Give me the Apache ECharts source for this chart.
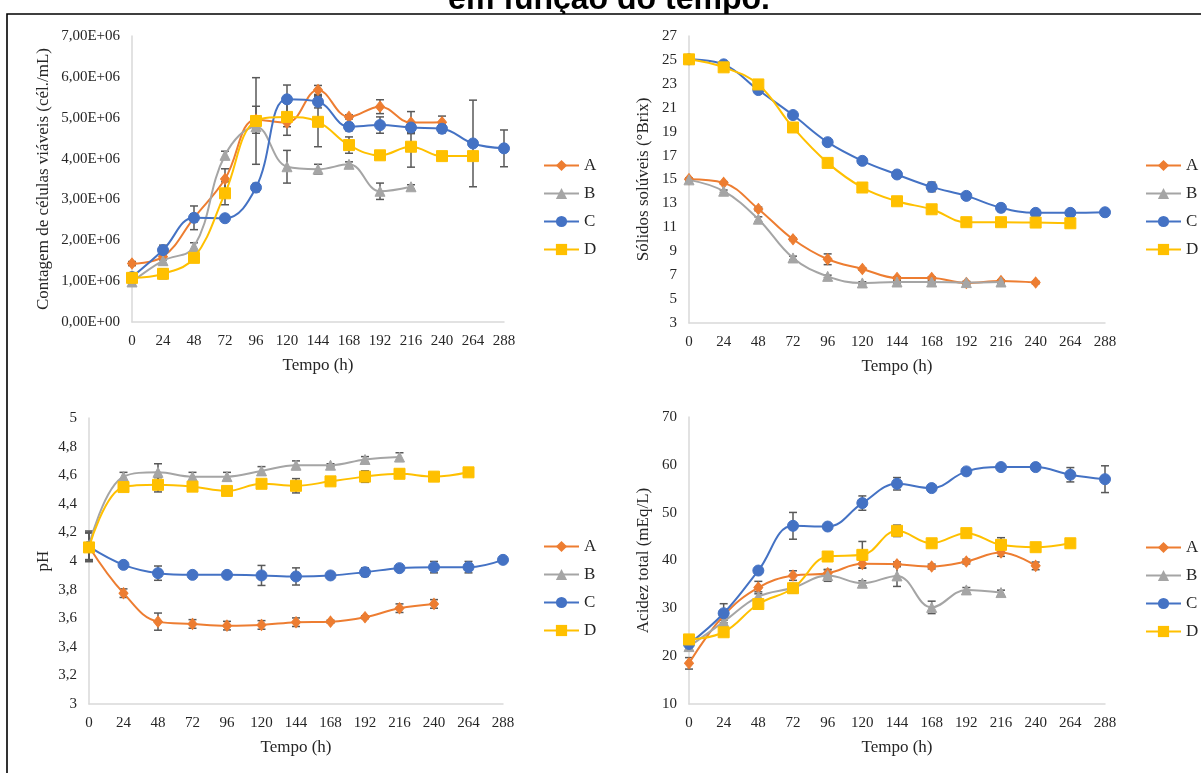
<!DOCTYPE html>
<html>
<head>
<meta charset="utf-8">
<script src="https://cdn.jsdelivr.net/npm/echarts@6/dist/echarts.min.js"></script>
<style>
html,body{margin:0;padding:0;background:#fff;}
#chart{width:1201px;height:773px;}
</style>
</head>
<body>
<div id="chart"></div>
<script>
// ---------- DATA ----------
const hours = [0, 24, 48, 72, 96, 120, 144, 168, 192, 216, 240, 264, 288];
const seriesNames = ['A', 'B', 'C', 'D'];

// Panel 1: viable cell count (cél./mL)
const cellA = [1.43e6, 1.60e6, 2.55e6, 3.50e6, 4.95e6, 4.88e6, 5.68e6, 5.02e6, 5.27e6, 4.88e6, 4.89e6];
const cellAErr = [0.05e6, 0.08e6, 0.29e6, 0.25e6, 0.33e6, 0.10e6, 0.11e6, 0.05e6, 0.17e6, 0.27e6, 0.15e6];
const cellB = [0.98e6, 1.50e6, 1.84e6, 4.08e6, 4.78e6, 3.80e6, 3.74e6, 3.86e6, 3.20e6, 3.31e6];
const cellBErr = [0.05e6, 0.10e6, 0.10e6, 0.10e6, 0.05e6, 0.40e6, 0.12e6, 0.06e6, 0.20e6, 0.05e6];
const cellC = [1.10e6, 1.76e6, 2.55e6, 2.54e6, 3.29e6, 5.45e6, 5.39e6, 4.78e6, 4.82e6, 4.76e6, 4.73e6, 4.37e6, 4.25e6];
const cellCErr = [0.10e6, 0.12e6, 0.10e6, 0.05e6, 0.10e6, 0.35e6, 0.15e6, 0.10e6, 0.20e6, 0.12e6, 0.10e6, 1.06e6, 0.45e6];
const cellD = [1.08e6, 1.18e6, 1.57e6, 3.15e6, 4.92e6, 5.02e6, 4.90e6, 4.33e6, 4.08e6, 4.29e6, 4.06e6, 4.06e6];
const cellDErr = [0.05e6, 0.12e6, 0.08e6, 0.28e6, 1.06e6, 0.45e6, 0.61e6, 0.20e6, 0.10e6, 0.50e6, 0.10e6, 0.05e6];
const cellTicks = ['0,00E+00', '1,00E+06', '2,00E+06', '3,00E+06', '4,00E+06', '5,00E+06', '6,00E+06', '7,00E+06'];

// Panel 2: soluble solids (°Brix)
const brixA = [15.03, 14.72, 12.54, 10.0, 8.33, 7.52, 6.77, 6.77, 6.35, 6.51, 6.38];
const brixAErr = [0.1, 0.1, 0.15, 0.1, 0.45, 0.1, 0.1, 0.1, 0.1, 0.1, 0.1];
const brixB = [14.97, 14.02, 11.68, 8.44, 6.9, 6.35, 6.43, 6.43, 6.38, 6.43];
const brixBErr = [0.1, 0.1, 0.2, 0.15, 0.1, 0.1, 0.1, 0.1, 0.1, 0.1];
const brixC = [25.05, 24.63, 22.48, 20.39, 18.12, 16.56, 15.42, 14.38, 13.63, 12.63, 12.21, 12.21, 12.26];
const brixCErr = [0.05, 0.1, 0.1, 0.1, 0.1, 0.1, 0.1, 0.4, 0.25, 0.3, 0.1, 0.1, 0.1];
const brixD = [25.05, 24.38, 22.95, 19.35, 16.39, 14.33, 13.18, 12.51, 11.43, 11.43, 11.40, 11.34];
const brixDErr = [0.05, 0.1, 0.1, 0.1, 0.1, 0.1, 0.1, 0.1, 0.1, 0.1, 0.1, 0.1];
const brixTicks = ['3', '5', '7', '9', '11', '13', '15', '17', '19', '21', '23', '25', '27'];

// Panel 3: pH
const phA = [4.10, 3.775, 3.576, 3.56, 3.548, 3.553, 3.572, 3.576, 3.607, 3.67, 3.70];
const phAErr = [0.10, 0.03, 0.06, 0.03, 0.03, 0.03, 0.03, 0.01, 0.01, 0.03, 0.03];
const phB = [4.11, 4.59, 4.62, 4.59, 4.59, 4.63, 4.67, 4.67, 4.71, 4.727];
const phBErr = [0.10, 0.03, 0.06, 0.03, 0.03, 0.03, 0.03, 0.01, 0.02, 0.03];
const phC = [4.10, 3.973, 3.915, 3.903, 3.903, 3.899, 3.892, 3.899, 3.922, 3.95, 3.957, 3.957, 4.008];
const phCErr = [0.10, 0.01, 0.05, 0.02, 0.02, 0.07, 0.06, 0.01, 0.03, 0.01, 0.04, 0.04, 0.01];
const phD = [4.095, 4.517, 4.533, 4.52, 4.49, 4.54, 4.526, 4.557, 4.59, 4.61, 4.59, 4.62];
const phDErr = [0.10, 0.02, 0.05, 0.02, 0.02, 0.02, 0.05, 0.01, 0.04, 0.03, 0.01, 0.02];
const phTicks = ['3', '3,2', '3,4', '3,6', '3,8', '4', '4,2', '4,4', '4,6', '4,8', '5'];

// Panel 4: total acidity (mEq/L)
const acA = [18.5, 28.5, 34.34, 36.85, 37.34, 39.3, 39.2, 38.74, 39.78, 41.67, 38.88];
const acAErr = [1.2, 1.0, 1.3, 1.0, 0.8, 0.8, 0.5, 0.5, 0.5, 0.8, 0.8];
const acB = [22.0, 27.2, 32.45, 34.3, 36.85, 35.25, 36.78, 30.2, 33.85, 33.3];
const acBErr = [0.8, 1.0, 1.0, 0.8, 1.2, 0.5, 2.2, 1.3, 0.5, 0.5];
const acC = [22.55, 28.97, 37.9, 47.25, 47.1, 52.0, 56.04, 55.14, 58.63, 59.53, 59.53, 57.93, 57.0];
const acCErr = [0.8, 2.0, 0.5, 2.8, 0.5, 1.5, 1.3, 0.5, 0.5, 0.5, 0.5, 1.5, 2.8];
const acD = [23.5, 25.0, 30.9, 34.2, 40.83, 41.18, 46.2, 43.6, 45.72, 43.27, 42.78, 43.6];
const acDErr = [0.5, 0.5, 0.5, 1.0, 0.5, 2.8, 1.2, 0.5, 0.5, 1.5, 0.5, 0.5];
const acTicks = ['10', '20', '30', '40', '50', '60', '70'];

const titleText = 'em função do tempo.';
const xTitle = 'Tempo (h)';
const yTitles = ['Contagem de células viáveis (cél./mL)', 'Sólidos solúveis (°Brix)', 'pH', 'Acidez total (mEq/L)'];

// ---------- STYLE / LAYOUT ----------
const colors = {A: '#ED7D31', B: '#A5A5A5', C: '#4472C4', D: '#FFC000'};
const symbols = {A: 'diamond', B: 'triangle', C: 'circle', D: 'rect'};
const symbolSizes = {A: [9, 11], B: 10, C: 11, D: 11};
const serif = 'Liberation Serif, Times New Roman, serif';
const txt = '#262626';
const axisGray = '#D9D9D9';

const panels = [
  {grid: {left: 132, top: 36, width: 372, height: 286}, y: {min: 0, max: 7e6, interval: 1e6}, ticks: cellTicks,
   data: [cellA, cellB, cellC, cellD], err: [cellAErr, cellBErr, cellCErr, cellDErr], yGap: 80, legend: {left: 543, top: 157}},
  {grid: {left: 689, top: 36, width: 416, height: 287}, y: {min: 3, max: 27, interval: 2}, ticks: brixTicks,
   data: [brixA, brixB, brixC, brixD], err: [brixAErr, brixBErr, brixCErr, brixDErr], yGap: 37, legend: {left: 1145, top: 157}},
  {grid: {left: 89, top: 418, width: 414, height: 286}, y: {min: 3, max: 5, interval: 0.2}, ticks: phTicks,
   data: [phA, phB, phC, phD], err: [phAErr, phBErr, phCErr, phDErr], yGap: 37, legend: {left: 543, top: 538}},
  {grid: {left: 689, top: 417, width: 416, height: 287}, y: {min: 10, max: 70, interval: 10}, ticks: acTicks,
   data: [acA, acB, acC, acD], err: [acAErr, acBErr, acCErr, acDErr], yGap: 37, legend: {left: 1145, top: 539}}
];

const option = {
  animation: false,
  backgroundColor: '#ffffff',
  graphic: [
    {type: 'text', z: -20, x: 609, y: -16,
     style: {text: titleText, font: 'bold 32px "Liberation Sans", Arial, sans-serif', fill: '#000', textAlign: 'center'}},
    {type: 'rect', z: -10, shape: {x: 7, y: 14, width: 1260, height: 820},
     style: {fill: '#ffffff', stroke: '#000000', lineWidth: 1.6}}
  ],
  grid: [], xAxis: [], yAxis: [], series: [], legend: []
};

panels.forEach((p, gi) => {
  option.grid.push(Object.assign({containLabel: false}, p.grid));
  option.xAxis.push({
    type: 'value', gridIndex: gi, min: 0, max: 288, interval: 24,
    name: xTitle, nameLocation: 'middle', nameGap: 35,
    nameTextStyle: {fontFamily: serif, fontSize: 17, color: txt},
    axisLine: {show: true, onZero: false, lineStyle: {color: axisGray, width: 1.5}},
    axisTick: {show: false}, splitLine: {show: false},
    axisLabel: {fontFamily: serif, fontSize: 15, color: txt, margin: 12, showMinLabel: true, showMaxLabel: true}
  });
  const ticks = p.ticks;
  const y = p.y;
  option.yAxis.push({
    type: 'value', gridIndex: gi, min: y.min, max: y.max, interval: y.interval,
    name: yTitles[gi], nameLocation: 'middle', nameGap: p.yGap,
    nameTextStyle: {fontFamily: serif, fontSize: 17, color: txt},
    axisLine: {show: true, lineStyle: {color: axisGray, width: 1.5}},
    axisTick: {show: false}, splitLine: {show: false},
    axisLabel: {fontFamily: serif, fontSize: 15, color: txt, margin: 12,
      formatter: v => ticks[Math.round((v - y.min) / y.interval)]}
  });
  seriesNames.forEach((n, si) => {
    const vals = p.data[si];
    const errs = p.err[si];
    option.series.push({
      type: 'custom', name: n + '_err' + gi, xAxisIndex: gi, yAxisIndex: gi, z: 1,
      data: vals.map((v, i) => [hours[i], v, errs[i]]),
      renderItem: (params, api) => {
        const xv = api.value(0), yv = api.value(1), e = api.value(2);
        const t = api.coord([xv, yv + e]);
        const b = api.coord([xv, yv - e]);
        const cap = 4;
        const st = {stroke: '#595959', lineWidth: 1.5};
        return {type: 'group', children: [
          {type: 'line', shape: {x1: t[0], y1: t[1], x2: b[0], y2: b[1]}, style: st},
          {type: 'line', shape: {x1: t[0] - cap, y1: t[1], x2: t[0] + cap, y2: t[1]}, style: st},
          {type: 'line', shape: {x1: b[0] - cap, y1: b[1], x2: b[0] + cap, y2: b[1]}, style: st}
        ]};
      }
    });
    option.series.push({
      type: 'line', name: n, xAxisIndex: gi, yAxisIndex: gi, z: 3 + si,
      data: vals.map((v, i) => [hours[i], v]),
      smooth: 0.4,
      symbol: symbols[n], symbolSize: symbolSizes[n], showSymbol: true,
      lineStyle: {color: colors[n], width: 2},
      itemStyle: {color: colors[n], borderColor: colors[n]},
      emphasis: {disabled: true}
    });
  });
  option.legend.push({
    orient: 'vertical', left: p.legend.left, top: p.legend.top, padding: 0,
    data: seriesNames, itemWidth: 35, itemHeight: 14, itemGap: 11,
    selectedMode: false,
    textStyle: {fontFamily: serif, fontSize: 17, color: txt}
  });
});

const chart = echarts.init(document.getElementById('chart'), null, {renderer: 'canvas'});
chart.setOption(option);
</script>
</body>
</html>
